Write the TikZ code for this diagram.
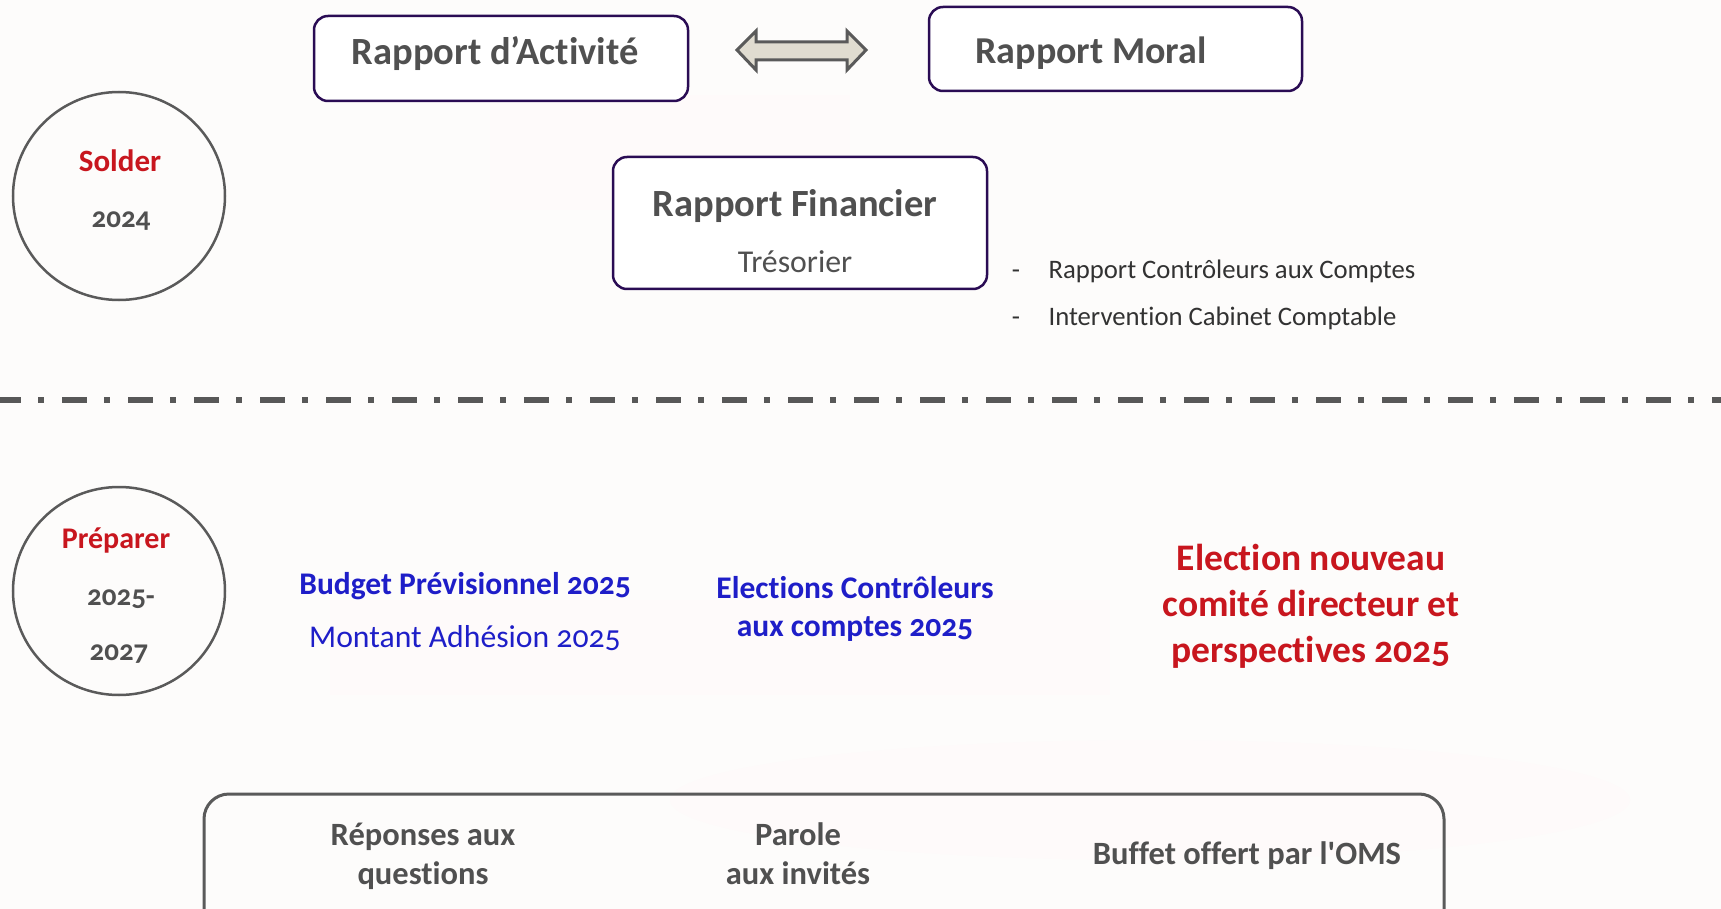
\documentclass[tikz,border=0pt]{standalone}
\usepackage{fontspec}
\setmainfont{Carlito}[Numbers=OldStyle, Ligatures=NoCommon]
\definecolor{bgc}{RGB}{253,252,251}
\definecolor{txtg}{RGB}{80,80,80}
\definecolor{txtd}{RGB}{50,50,50}
\definecolor{redc}{RGB}{200,22,30}
\definecolor{bluec}{RGB}{30,30,200}
\definecolor{purp}{RGB}{42,12,84}
\definecolor{arrowfill}{RGB}{224,220,208}
\definecolor{grayline}{RGB}{90,90,90}
\definecolor{blob}{RGB}{254,250,250}
\newcommand{\apos}{\XeTeXglyph\XeTeXcharglyph"27\relax}
\tikzset{
  topbox/.style={draw=purp, line width=2.5pt, rounded corners=14pt, fill=white},
  circ/.style={draw=grayline, line width=2.5pt, ellipse, minimum width=212pt, minimum height=208pt},
  gtxt/.style={text=txtg, font=\fontsize{38.5}{44}\selectfont\bfseries},
  btxt/.style={text=txtd, font=\fontsize{26.7}{30}\selectfont},
  bluebold/.style={text=bluec, font=\fontsize{31.5}{38}\selectfont\bfseries, align=center},
  bottxt/.style={text=txtg, font=\fontsize{32.5}{39}\selectfont\bfseries, align=center},
}
\usetikzlibrary{shapes.geometric}
\begin{document}
\begin{tikzpicture}[x=1pt,y=-1pt]
\fill[bgc] (0,0) rectangle (1721,909);
\useasboundingbox (0,0) rectangle (1721,909);
% faint background blobs
\fill[blob] (490,95) rectangle (850,210);
\fill[blob] (330,600) rectangle (1110,695);
\fill[blob] (1150,800) ellipse (480 and 60);
% top boxes
\draw[topbox] (314,16) rectangle (688,101);
\node[gtxt] (ra) at (495,54) {Rapport d’Activité};
\draw[topbox] (929,7) rectangle (1302,91);
\node[gtxt, font=\fontsize{38}{44}\selectfont\bfseries] (rm) at (1091,53) {Rapport Moral};
% double arrow
\draw[line width=3pt, draw=grayline, fill=arrowfill, line join=miter]
  (737,50) -- (756,31) -- (756,42) -- (847,42) -- (847,31) -- (866,50)
  -- (847,70) -- (847,60) -- (756,60) -- (756,70) -- cycle;
% financier
\draw[topbox] (613,157) rectangle (987,289);
\node[gtxt] (rf) at (795,206) {Rapport Financier};
\node[text=txtg, font=\fontsize{31.8}{36}\selectfont] (tr) at (795,262) {Trésorier};
% bullets
\node[btxt] (d1) at (1016,274) {-};
\node[btxt, anchor=west] (b1) at (1045,271) {Rapport Contrôleurs aux Comptes};
\node[btxt] (d2) at (1016,321) {-};
\node[btxt, anchor=west] (b2) at (1045,318) {Intervention Cabinet Comptable};
% circles
\node[circ] (c1) at (119,196) {};
\node[text=redc, font=\fontsize{31}{36}\selectfont\bfseries] (s1) at (120,161) {Solder};
\node[text=txtg, font=\fontsize{29}{36}\selectfont\bfseries] (y1) at (121,221) {2024};
\node[circ] (c2) at (119,591) {};
\node[text=redc, font=\fontsize{30}{36}\selectfont\bfseries] (s2) at (116,540) {Préparer};
\node[text=txtg, font=\fontsize{29}{36}\selectfont\bfseries] (y2) at (121,599) {2025-};
\node[text=txtg, font=\fontsize{29}{36}\selectfont\bfseries] (y3) at (119,654) {2027};
% dash dot line
\draw[line width=6.5pt, draw=txtg!110!black, dash pattern=on 25pt off 17pt on 6pt off 18pt, dash phase=4pt] (0,400) -- (1721,400);
% preparer items
\node[bluebold] (bp) at (465,586) {Budget Prévisionnel 2025};
\node[text=bluec, font=\fontsize{31.7}{36}\selectfont] (ma) at (465,638) {Montant Adhésion 2025};
\node[bluebold] (ec) at (855,609) {Elections Contrôleurs\\aux comptes 2025};
\node[text=redc, font=\fontsize{37.5}{46}\selectfont\bfseries, align=center] (en) at (1311,606) {Election nouveau\\comité directeur et\\perspectives 2025};
% bottom box
\draw[draw=grayline, line width=3pt, rounded corners=25pt] (204,940) -- (204,794) -- (1444,794) -- (1444,940);
\node[bottxt] (rq) at (423,856) {Réponses aux\\questions};
\node[bottxt] (pi) at (798,854) {Parole\\aux invités};
\node[bottxt] (bo) at (1247,856) {Buffet offert par l\apos OMS};
\end{tikzpicture}
\end{document}
